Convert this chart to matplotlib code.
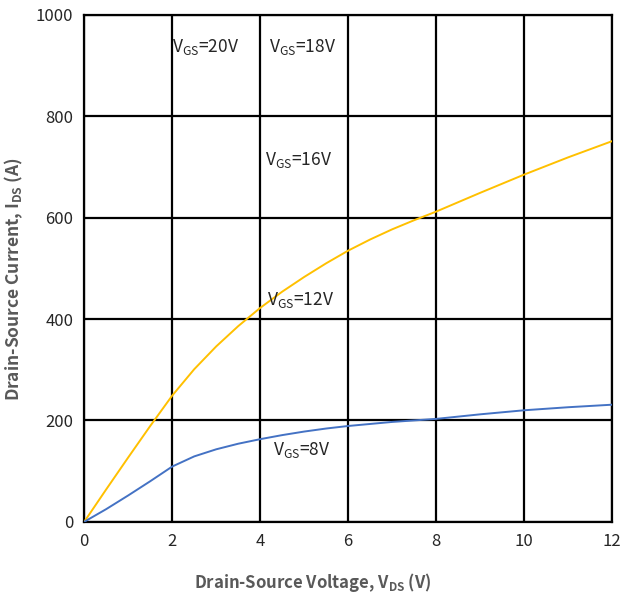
import matplotlib
matplotlib.use('Agg')
import matplotlib.pyplot as plt

# values
vds = [0, 0.5, 1, 1.5, 2, 2.5, 3, 3.5, 4, 4.5, 5, 5.5, 6, 6.5, 7, 7.5, 8, 9, 10, 11, 12]
ids_12v = [0, 64, 127, 189, 249, 301, 346, 386, 422, 454, 483, 510, 535, 557, 577, 595, 612, 649, 685, 719, 751]
ids_8v = [0, 25, 52, 80, 109, 129, 143, 154, 163, 171, 178, 184, 189, 193, 197, 200, 203, 212, 220, 226, 231]

labels = ['20V', '18V', '16V', '12V', '8V']
label_x = [2.0, 4.2, 4.1, 4.15, 4.3]
label_y = [937, 937, 714, 438, 142]

plt.rcParams['font.family'] = ['Noto Sans CJK SC', 'DejaVu Sans']
plt.rcParams['mathtext.fontset'] = 'custom'
plt.rcParams['mathtext.rm'] = 'Noto Sans CJK SC'
plt.rcParams['mathtext.bf'] = 'Noto Sans CJK SC:bold'

fig, ax = plt.subplots(figsize=(6.24, 5.97), dpi=100)
fig.subplots_adjust(left=0.135, right=0.981, top=0.975, bottom=0.126)

ax.plot(vds, ids_12v, color='#FFC000', lw=1.4, zorder=3)
ax.plot(vds, ids_8v, color='#4472C4', lw=1.4, zorder=3)

for lab, x, y in zip(labels, label_x, label_y):
    ax.text(x, y, r'V$_{\mathregular{GS}}$=' + lab, fontsize=12.5, va='center', ha='left', color='#262626')

ax.set_xlim(0, 12)
ax.set_ylim(0, 1000)
ax.set_xticks(range(0, 13, 2))
ax.set_yticks(range(0, 1001, 200))
ax.grid(True, color='black', lw=1.6)
for s in ax.spines.values():
    s.set_color('black')
    s.set_linewidth(1.6)
ax.tick_params(length=0, labelsize=12, labelcolor='#262626', pad=8)

ax.set_xlabel(r'Drain-Source Voltage, V$_{\mathregular{DS}}$ (V)', fontsize=12, fontweight='bold', color='#595959')
ax.set_ylabel(r'Drain-Source Current, I$_{\mathregular{DS}}$ (A)', fontsize=12.5, fontweight='bold', color='#595959')
ax.xaxis.set_label_coords(0.432, -0.097)
ax.yaxis.set_label_coords(-0.112, 0.479)

fig.savefig('out.png', dpi=100)
